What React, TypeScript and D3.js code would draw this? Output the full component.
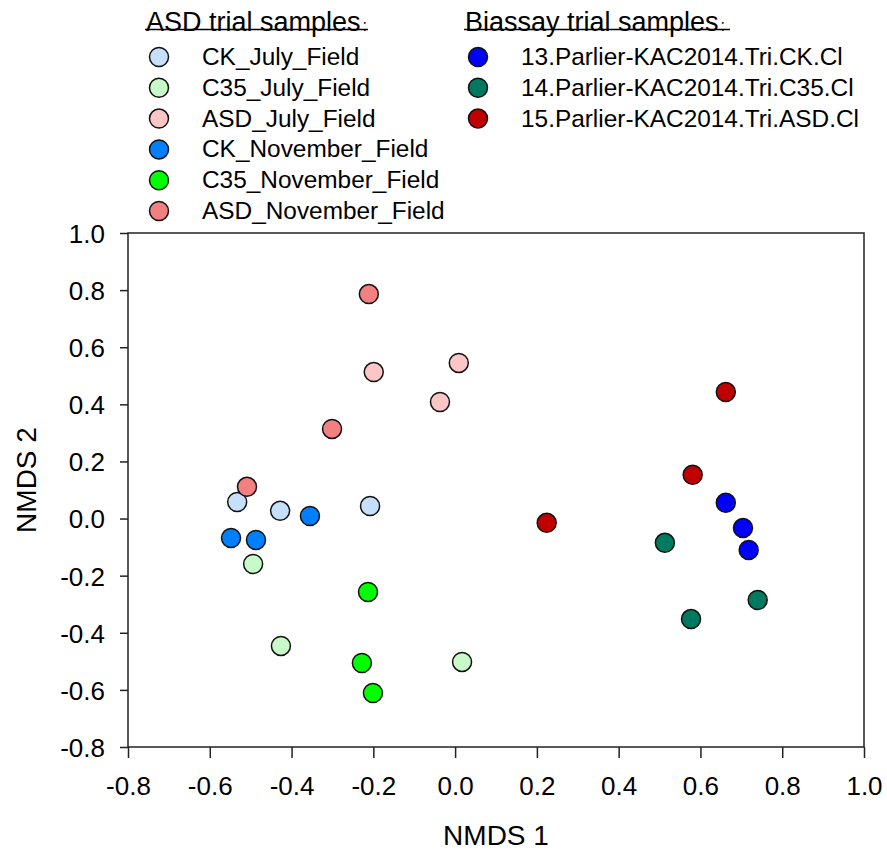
import React, { useEffect, useRef } from "react";
import * as d3 from "d3";

// group names and fills, legend order
const asdGroups = [
  "CK_July_Field",
  "C35_July_Field",
  "ASD_July_Field",
  "CK_November_Field",
  "C35_November_Field",
  "ASD_November_Field",
];
const asdColors = ["#c6e0fb", "#c8f9c8", "#fcc6c6", "#0080ff", "#00ff00", "#f28080"];

const bioGroups = [
  "13.Parlier-KAC2014.Tri.CK.Cl",
  "14.Parlier-KAC2014.Tri.C35.Cl",
  "15.Parlier-KAC2014.Tri.ASD.Cl",
];
const bioColors = ["#0000ff", "#007a5e", "#c00000"];

// NMDS coordinates per group [x, y]
const ckJuly = [[-0.533, 0.058], [-0.428, 0.027], [-0.208, 0.044]];
const c35July = [[-0.494, -0.159], [-0.426, -0.446], [0.017, -0.502]];
const asdJuly = [[-0.199, 0.513], [-0.037, 0.408], [0.009, 0.545]];
const ckNov = [[-0.548, -0.068], [-0.487, -0.075], [-0.355, 0.009]];
const c35Nov = [[-0.213, -0.257], [-0.228, -0.506], [-0.201, -0.611]];
const asdNov = [[-0.211, 0.786], [-0.301, 0.314], [-0.509, 0.111]];
const bioCK = [[0.662, 0.055], [0.704, -0.033], [0.718, -0.11]];
const bioC35 = [[0.513, -0.085], [0.74, -0.285], [0.577, -0.352]];
const bioASD = [[0.662, 0.443], [0.581, 0.153], [0.224, -0.015]];

const ticks = [-0.8, -0.6, -0.4, -0.2, 0.0, 0.2, 0.4, 0.6, 0.8, 1.0];

const App = () => {
  const ref = useRef<SVGSVGElement>(null);

  useEffect(() => {
    const svg = d3.select(ref.current);
    svg.selectAll("*").remove();

    const font = "Liberation Sans, Arial, sans-serif";
    const left = 128, right = 864, top = 233, bottom = 747;

    const x = d3.scaleLinear().domain([-0.8, 1.0]).range([left, right]);
    const y = d3.scaleLinear().domain([-0.8, 1.0]).range([bottom, top]);

    // frame
    svg.append("rect")
      .attr("x", left).attr("y", top)
      .attr("width", right - left).attr("height", bottom - top)
      .attr("fill", "none").attr("stroke", "#222").attr("stroke-width", 1.5);

    // axes
    const fmt = (d: any) => d3.format(".1f")(d).replace("−", "-");
    const xAxis = svg.append("g")
      .attr("transform", `translate(0,${bottom})`)
      .call(d3.axisBottom(x).tickValues(ticks).tickSizeInner(11).tickSizeOuter(0));
    const yAxis = svg.append("g")
      .attr("transform", `translate(${left},0)`)
      .call(d3.axisLeft(y).tickValues(ticks).tickSizeInner(8).tickSizeOuter(0));

    [xAxis, yAxis].forEach((g) => {
      g.select(".domain").remove();
      g.selectAll("line").attr("stroke", "#222").attr("stroke-width", 1.5);
      g.selectAll("text")
        .attr("font-family", font).attr("font-size", 26).attr("fill", "#000")
        .text(fmt);
    });
    xAxis.selectAll("text").attr("y", 48).attr("dy", 0);
    yAxis.selectAll("text").attr("x", -23).attr("dy", "0.36em");

    // axis titles
    svg.append("text")
      .attr("x", (left + right) / 2).attr("y", 845)
      .attr("text-anchor", "middle")
      .attr("font-family", font).attr("font-size", 28)
      .text("NMDS 1");
    svg.append("text")
      .attr("transform", `translate(36,480) rotate(-90)`)
      .attr("text-anchor", "middle")
      .attr("font-family", font).attr("font-size", 28)
      .text("NMDS 2");

    // points
    const series = [
      { pts: ckJuly, color: asdColors[0] },
      { pts: c35July, color: asdColors[1] },
      { pts: asdJuly, color: asdColors[2] },
      { pts: ckNov, color: asdColors[3] },
      { pts: c35Nov, color: asdColors[4] },
      { pts: asdNov, color: asdColors[5] },
      { pts: bioCK, color: bioColors[0] },
      { pts: bioC35, color: bioColors[1] },
      { pts: bioASD, color: bioColors[2] },
    ];
    series.forEach((s) => {
      svg.append("g")
        .selectAll("circle")
        .data(s.pts)
        .enter()
        .append("circle")
        .attr("cx", (d) => x(d[0]))
        .attr("cy", (d) => y(d[1]))
        .attr("r", 9.5)
        .attr("fill", s.color)
        .attr("stroke", "#111")
        .attr("stroke-width", 1.5);
    });

    // legends
    const legend = (x0: number, title: string, lineEnd: number, names: string[], colors: string[]) => {
      const g = svg.append("g");
      g.append("text")
        .attr("x", x0 - 13).attr("y", 31)
        .attr("font-family", font).attr("font-size", 27)
        .text(title)
        .append("tspan").attr("font-size", 16).attr("dx", 2).text(":");
      g.append("line")
        .attr("x1", x0 - 14).attr("x2", lineEnd)
        .attr("y1", 29.5).attr("y2", 29.5)
        .attr("stroke", "#000").attr("stroke-width", 1.5);
      names.forEach((n, i) => {
        const cy = 57 + i * 30.8;
        g.append("circle")
          .attr("cx", x0).attr("cy", cy).attr("r", 9.5)
          .attr("fill", colors[i]).attr("stroke", "#111").attr("stroke-width", 1.5);
        g.append("text")
          .attr("x", x0 + 43).attr("y", cy + 8)
          .attr("font-family", font).attr("font-size", 24.4)
          .text(n);
      });
    };
    legend(159, "ASD trial samples", 368, asdGroups, asdColors);
    legend(478, "Biassay trial samples", 730, bioGroups, bioColors);
  }, []);

  return (
    <svg
      ref={ref}
      width={887}
      height={850}
      style={{ position: "absolute", left: 0, top: 0, background: "#fff" }}
    />
  );
};

export default App;
